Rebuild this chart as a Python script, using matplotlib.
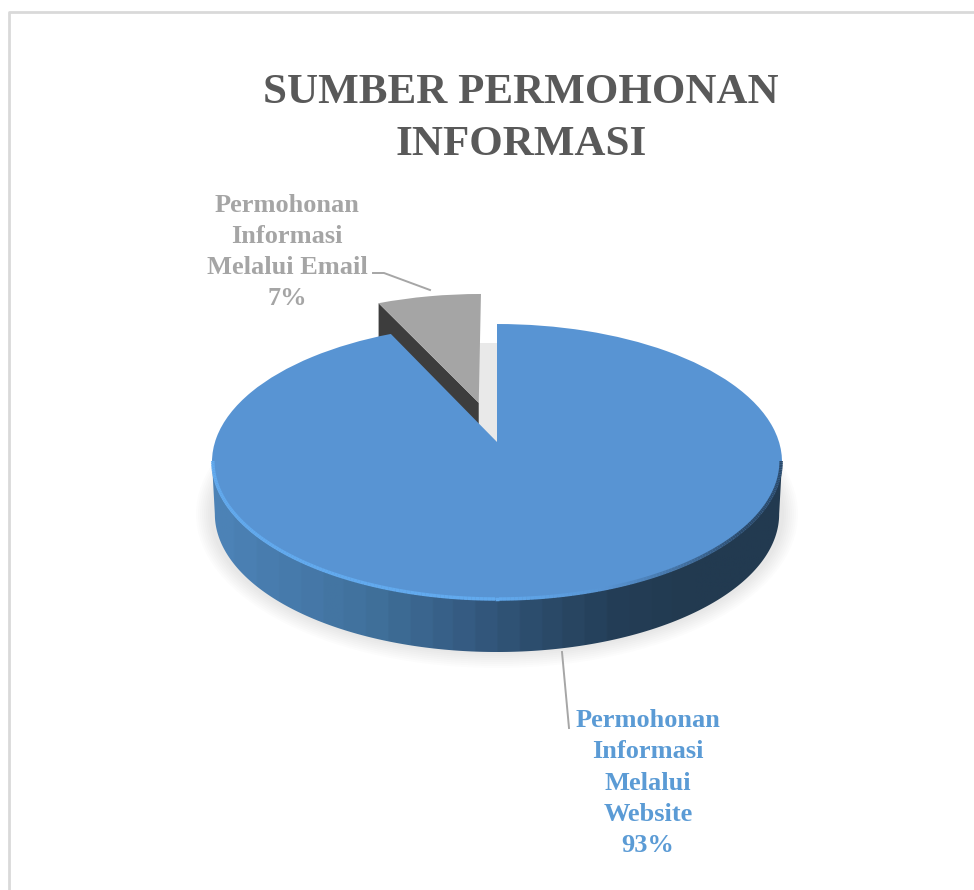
import matplotlib
matplotlib.use("Agg")
import matplotlib.pyplot as plt
import numpy as np
from matplotlib.collections import LineCollection
from matplotlib.colors import LinearSegmentedColormap, to_rgb
from matplotlib.patches import Ellipse, Polygon
from matplotlib.transforms import Transform

plt.rcParams['font.family'] = ['Liberation Serif', 'DejaVu Serif']

title = "SUMBER PERMOHONAN\nINFORMASI"
labels = ["Permohonan\nInformasi\nMelalui\nWebsite", "Permohonan\nInformasi\nMelalui Email"]
values = [93, 7]
explode = [0, 0.31]
colors = ['#5894d3', '#a5a5a5']
label_colors = ['#5b9bd5', '#a5a5a5']
label_pos = [(648, 783), (287, 252)]

# pie sits flat on the page, this fakes the tilted view
cx, cy = 497, 442
k = 0.145
sx, sy = 282, 135.1
depth = 52


class Tilt(Transform):
    input_dims = 2
    output_dims = 2

    def transform_non_affine(self, values):
        pts = np.asarray(values, dtype=float)
        w = 1 + k * pts[:, 1]
        return np.column_stack([cx + sx * pts[:, 0] / w, cy - sy * pts[:, 1] / w])


tilt = Tilt()

fig = plt.figure(figsize=(9.74, 8.9), dpi=100)
ax = fig.add_axes([0, 0, 1, 1])

wedges, _ = ax.pie(values, explode=explode, colors=colors, startangle=90, counterclock=False)
for w in wedges:
    w.set_transform(tilt + ax.transData)
    w.set_linewidth(0)
    w.set_zorder(6 if w is wedges[0] else 3)

# outline of the near side of the disc, left to right
turn = np.degrees(np.arccos(-k))
a = np.radians(90 - np.linspace(360 - turn, turn, 240))
rim = tilt.transform(np.column_stack([np.cos(a), np.sin(a)]))
low = rim + [0, depth]
low[:, 0] = cx + (low[:, 0] - cx) * 0.99

# soft shadow
for s in range(2, 18, 2):
    ax.add_patch(Ellipse((cx, 514), 570 + 2 * s, 276 + 2 * s, fc='k', ec='none', alpha=0.012, zorder=1))

# gap behind the pulled out slice
ax.fill([476, 497, 497, 476], [343, 343, 442, 423], color='#e9e9e9', lw=0, zorder=2)

# cut face of the email slice
e = wedges[1]
ang = np.radians(e.theta2)
corner = tilt.transform(np.array([[e.center[0] + np.cos(ang), e.center[1] + np.sin(ang)]]))[0]
apex = tilt.transform(np.array([e.center]))[0]
ax.add_patch(Polygon([corner, apex, apex + [0, depth], corner + [0, depth]], fc='#3d3d3d', ec='none', zorder=2.5))

# side wall of the big slice
wall_cmap = LinearSegmentedColormap.from_list(
    'wall', ['#4c82b6', '#4679a9', '#3f6f99', '#365d84', '#2c4c6c', '#243e57', '#223a50', '#223a50'], N=26)
grad = np.linspace(0, 1, 256).reshape(1, -1)
im = ax.imshow(grad, extent=[rim[0, 0], rim[-1, 0], low[:, 1].max(), rim[:, 1].min()],
               cmap=wall_cmap, aspect='auto', zorder=4)
wall = Polygon(np.vstack([rim, low[::-1]]), fc='none', ec='none', transform=ax.transData)
ax.add_patch(wall)
im.set_clip_path(wall)

# bevel along the top edge, light on the left and dark on the right
light, base, dark = [np.array(to_rgb(c)) for c in ('#62aaee', '#5894d3', '#2b4a6b')]
t = np.linspace(0, 1, len(rim) - 1)
rim_cols = []
for v in t:
    if v < 0.5:
        rim_cols.append(light)
    elif v < 0.62:
        rim_cols.append(light + (base - light) * (v - 0.5) / 0.12)
    else:
        rim_cols.append(base + (dark - base) * min((v - 0.62) / 0.2, 1))
inner = rim.copy()
inner[:, 0] = cx + (inner[:, 0] - cx) * 0.997
segs = np.stack([inner[:-1], inner[1:]], axis=1) + [0, -1]
ax.add_collection(LineCollection(segs, colors=rim_cols, linewidths=2.5, zorder=7))

# leader lines
ax.plot([373, 384, 430], [273, 273, 290], color='#a6a6a6', lw=1.4, zorder=8)
ax.plot([562, 569], [652, 728], color='#a6a6a6', lw=1.4, zorder=8)

# texts
for name, val, col, pos in zip(labels, values, label_colors, label_pos):
    ax.text(pos[0], pos[1], f"{name}\n{val}%", color=col, fontsize=19, fontweight='bold',
            ha='center', va='center', linespacing=1.45, zorder=9)
ax.text(521, 119, title, color='#595959', fontsize=31, fontweight='bold',
        ha='center', va='center', linespacing=1.45, zorder=9)

# chart border, the right side falls outside the crop
ax.plot([9, 9, 974], [890, 12, 12], color='#d9d9d9', lw=2, zorder=0)

ax.set_aspect('auto')
ax.set_xlim(0, 974)
ax.set_ylim(890, 0)
ax.axis('off')

fig.savefig('out.png', dpi=100)
